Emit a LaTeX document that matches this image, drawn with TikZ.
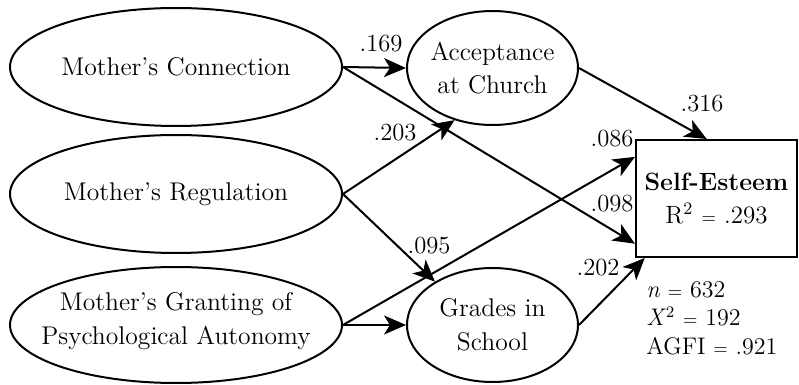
\documentclass[tikz,border=0pt]{standalone}
\usetikzlibrary{shapes.geometric,arrows.meta,calc}
% narrow equals sign, as set in the fit statistics
\newcommand{\nareq}{{\fontsize{9}{9}\selectfont =}}
\begin{document}
\begin{tikzpicture}[x=0.5pt,y=-0.5pt,
  latent/.style={ellipse,draw,line width=1pt,inner sep=0pt},
  caption/.style={inner sep=0pt,align=center,font=\fontsize{12.8}{16.8}\selectfont},
  outcome/.style={rectangle,draw,line width=1pt,inner sep=0pt,align=center,
    minimum width=80.5pt,minimum height=58.5pt,font=\fontsize{12.5}{16.5}\selectfont},
  pathway/.style={line width=1pt,-{Stealth[length=11pt,width=9.5pt,inset=3pt]}},
  coef/.style={inner sep=0pt,font=\fontsize{12.3}{14}\selectfont},
  fit stats/.style={inner sep=0pt,align=left,font=\fontsize{12}{14.3}\selectfont}]
\useasboundingbox (0,0) rectangle (799,385);

% exogenous parenting constructs
\node[latent,minimum width=166pt,minimum height=59pt] (mc) at (176,67) {};
\node[caption] (mc-t) at (mc.center) {Mother’s Connection};
\node[latent,minimum width=166pt,minimum height=59pt] (mr) at (176,194) {};
\node[caption] (mr-t) at (mr.center) {Mother’s Regulation};
\node[latent,minimum width=166pt,minimum height=58pt] (mg) at (176,325) {};
\node[caption] (mg-t) at ([yshift=2pt]mg.center) {Mother’s Granting of\\Psychological Autonomy};

% mediators
\node[latent,minimum width=85.5pt,minimum height=57pt] (ac) at (492.5,68) {};
\node[caption] (ac-t) at (ac.center) {Acceptance\\at Church};
\node[latent,minimum width=85.5pt,minimum height=57pt] (gs) at (492.5,325) {};
\node[caption] (gs-t) at (gs.center) {Grades in\\School};

% outcome
\node[outcome] (se) at (716.5,198.5) {\textbf{Self-Esteem}\\R\textsuperscript{2} \nareq{} .293};

% arrow targets on the outcome box
\coordinate (se086) at ($(se.north west)!0.15!(se.south west)$);
\coordinate (se098) at ($(se.north west)!0.88!(se.south west)$);
\coordinate (se316) at ($(se.north west)!0.44!(se.north east)$);
\coordinate (se202) at ($(se.south west)!0.06!(se.south east)$);

% structural paths
\draw[pathway] (mc.east) -- (ac.west);
\draw[pathway] (mc.east) -- (se098);
\draw[pathway] (mr.east) -- (ac.234);
\draw[pathway] (mr.east) -- (gs.143);
\draw[pathway] (mg.east) -- (se086);
\draw[pathway] (mg.east) -- (gs.west);
\draw[pathway] (ac.east) -- (se316);
\draw[pathway] (gs.east) -- (se202);

% path coefficients
\node[coef] (c169) at (381,44) {.169};
\node[coef] (c203) at (395,133) {.203};
\node[coef] (c086) at (612,139) {.086};
\node[coef] (c316) at (702,104) {.316};
\node[coef] (c098) at (612,204) {.098};
\node[coef] (c095) at (429,246) {.095};
\node[coef] (c202) at (598,268) {.202};

% model fit
\node[fit stats,anchor=north west] (fit) at (646,281)
  {\textit{n} \nareq{} 632\\\textit{X}\textsuperscript{2} \nareq{} 192\\AGFI \nareq{} .921};
\end{tikzpicture}
\end{document}
